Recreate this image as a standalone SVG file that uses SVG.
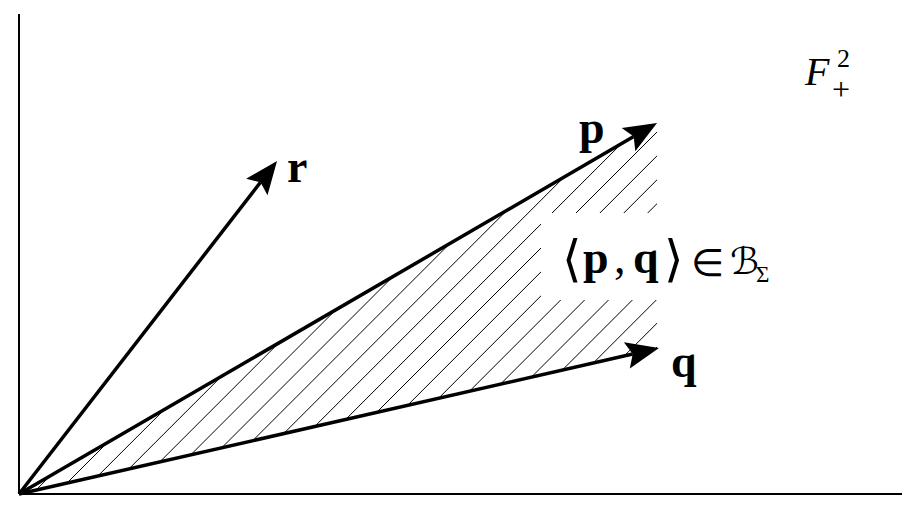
<svg xmlns="http://www.w3.org/2000/svg" width="916" height="511" viewBox="0 0 916 511">
<style>
.ax{stroke:#000;stroke-width:2;fill:none}
.vec{stroke:#000;stroke-width:3.5;fill:none;marker-end:url(#ah)}
.hatch{stroke:#000;stroke-width:1;fill:none}
.t{font-family:"Liberation Serif","DejaVu Serif",serif;fill:#000}
.b{font-weight:bold}
.m{font-family:"DejaVu Serif","Liberation Serif",serif;fill:#000}
.s{font-family:"DejaVu Sans","Noto Sans",sans-serif;fill:#000}
</style>
<defs>
<marker id="ah" markerUnits="userSpaceOnUse" markerWidth="36" markerHeight="30" viewBox="0 -15 36 30" refX="6" refY="0" orient="auto" overflow="visible">
<path d="M0,-13.5 L33,0 L0,13.5 L6,0 Z" fill="#000"/>
</marker>
<clipPath id="cone"><polygon points="19,494 657,123 657,348.5"/></clipPath>
</defs>
<rect width="916" height="511" fill="#fff"/>
<g id="axes">
<line class="ax" x1="19" y1="14" x2="19" y2="494"/>
<line class="ax" x1="19" y1="494" x2="902" y2="494"/>
</g>
<g id="hatch-region" clip-path="url(#cone)">
<path class="hatch" d="M32.1,494 L426.1,100 M56,494 L450,100 M79.9,494 L473.9,100 M103.8,494 L497.8,100 M127.7,494 L521.7,100 M151.6,494 L545.6,100 M175.5,494 L569.5,100 M199.4,494 L593.4,100 M223.3,494 L617.3,100 M247.2,494 L641.2,100 M271.1,494 L665.1,100 M295,494 L689,100 M318.9,494 L712.9,100 M342.8,494 L736.8,100 M366.7,494 L760.7,100 M390.6,494 L784.6,100 M414.5,494 L808.5,100 M438.4,494 L832.4,100 M462.3,494 L856.3,100 M486.2,494 L880.2,100 M510.1,494 L904.1,100"/>
</g>
<rect id="label-bg" x="541" y="213" width="130" height="87" fill="#fff"/>
<g id="connectors">
<line id="vec-p" class="vec" x1="19" y1="494" x2="633.7" y2="136.6"/>
<line id="vec-q" class="vec" x1="19" y1="494" x2="632.7" y2="354"/>
<line id="vec-r" class="vec" x1="19" y1="494" x2="260.5" y2="182.3"/>
</g>
<g id="label-p"><text class="t b" x="579" y="143" font-size="46">p</text></g>
<g id="label-q"><text class="t b" x="671" y="377" font-size="46">q</text></g>
<g id="label-r"><text class="t b" x="287" y="182" font-size="46">r</text></g>
<g id="label-set">
<text class="m" x="562" y="276" font-size="50">⟨</text>
<text class="t b" x="583" y="273" font-size="46">p</text>
<text class="t" x="614" y="273" font-size="46">,</text>
<text class="t b" x="633" y="273" font-size="46">q</text>
<text class="m" x="664" y="276" font-size="50">⟩</text>
<text class="s" x="691" y="276" font-size="38">∈</text>
<text class="s" x="730" y="274" font-size="37">ℬ</text>
<text class="t" x="756" y="282" font-size="23">Σ</text>
</g>
<g id="label-F">
<text class="t" x="805" y="85" font-size="40" font-style="italic">F</text>
<text class="t" x="837" y="67" font-size="26">2</text>
<text class="t" x="832" y="100" font-size="32">+</text>
</g>
</svg>
